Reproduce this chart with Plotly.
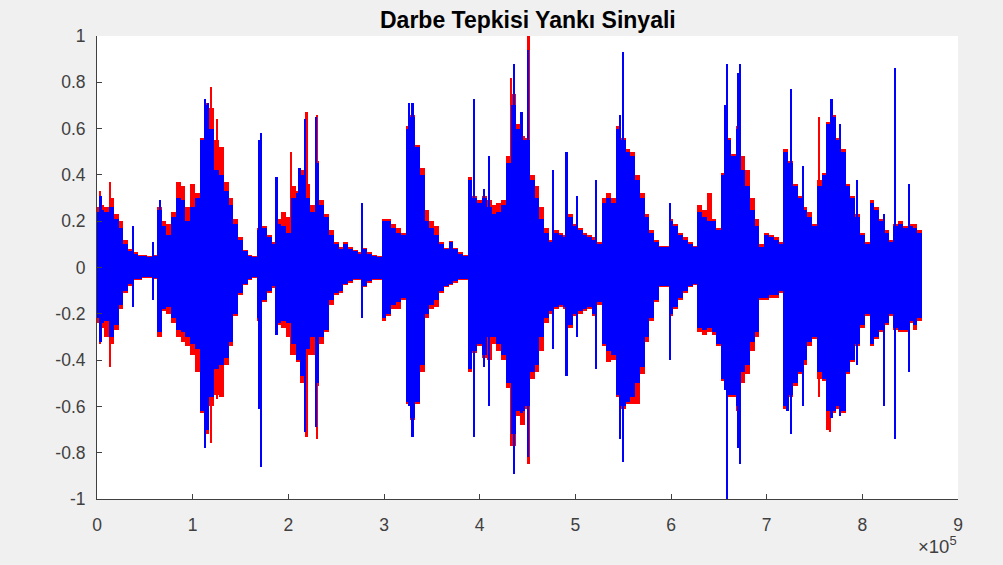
import numpy as np
import plotly.graph_objects as go

# Envelope of the two signals, one column per 5000 samples (x = 0 ... 860000).
STEP = 5000

blue_hi = [
    .24, .25, .24, .26, .21, .17, .10, .07, .06, .05,
    .05, .045, .05, .25, .18, .14, .22, .30, .29, .20,
    .26, .30, .55, .70, .60, .42, .40, .33, .27, .19,
    .12, .07, .05, .045, .16, .17, .13, .10, .19, .18,
    .15, .30, .32, .40, .30, .24, .45, .27, .22, .14,
    .10, .08, .10, .08, .07, .06, .08, .06, .05, .045,
    .20, .20, .17, .15, .14, .60, .65, .52, .40, .20,
    .17, .14, .10, .08, .11, .08, .06, .05, .38, .30,
    .28, .30, .26, .23, .24, .27, .45, .70, .60, .55,
    .55, .38, .30, .21, .15, .11, .15, .14, .13, .22,
    .18, .16, .14, .13, .12, .10, .28, .30, .28, .60,
    .55, .50, .48, .38, .30, .22, .15, .11, .09, .09,
    .20, .18, .14, .12, .10, .09, .24, .22, .20, .20,
    .16, .40, .55, .48, .60, .42, .35, .25, .18, .09,
    .14, .13, .12, .10, .50, .45, .35, .30, .25, .22,
    .18, .35, .40, .62, .65, .55, .50, .35, .30, .22,
    .14, .10, .28, .25, .20, .15, .11, .18, .19, .17,
    .18, .17, .15,
]
blue_lo = [
    -.22, -.24, -.23, -.30, -.25, -.16, -.10, -.07, -.05, -.05,
    -.04, -.04, -.045, -.28, -.18, -.17, -.22, -.27, -.28, -.30,
    -.33, -.35, -.62, -.70, -.56, -.44, -.42, -.39, -.32, -.20,
    -.11, -.07, -.05, -.04, -.22, -.14, -.10, -.08, -.24, -.23,
    -.24, -.33, -.40, -.47, -.35, -.30, -.50, -.30, -.27, -.14,
    -.11, -.10, -.07, -.06, -.05, -.05, -.08, -.06, -.05, -.05,
    -.22, -.20, -.16, -.15, -.13, -.58, -.65, -.58, -.42, -.20,
    -.16, -.14, -.10, -.08, -.07, -.06, -.05, -.05, -.44, -.36,
    -.33, -.38, -.30, -.30, -.33, -.38, -.50, -.72, -.62, -.62,
    -.60, -.45, -.42, -.30, -.22, -.19, -.17, -.16, -.17, -.25,
    -.20, -.19, -.18, -.17, -.20, -.15, -.33, -.36, -.38, -.55,
    -.60, -.58, -.56, -.50, -.43, -.30, -.22, -.14, -.08, -.08,
    -.20, -.17, -.13, -.10, -.08, -.07, -.26, -.27, -.26, -.28,
    -.33, -.48, -.55, -.55, -.60, -.45, -.42, -.32, -.28, -.13,
    -.13, -.12, -.12, -.10, -.60, -.55, -.50, -.45, -.40, -.32,
    -.30, -.45, -.48, -.62, -.62, -.60, -.62, -.45, -.40, -.33,
    -.25, -.20, -.33, -.30, -.27, -.24, -.20, -.26, -.27, -.27,
    -.23, -.25, -.22,
]
red_hi = [
    .26, .27, .26, .30, .23, .20, .12, .08, .065, .055,
    .055, .05, .055, .26, .20, .19, .24, .37, .35, .26,
    .36, .32, .56, .71, .69, .55, .52, .37, .30, .21,
    .13, .075, .055, .05, .17, .18, .14, .11, .21, .24,
    .22, .35, .33, .42, .36, .27, .46, .29, .23, .16,
    .11, .09, .11, .09, .075, .065, .085, .065, .055, .05,
    .21, .21, .19, .17, .15, .61, .66, .53, .43, .25,
    .20, .18, .11, .085, .115, .085, .065, .055, .39, .31,
    .29, .31, .29, .27, .28, .29, .48, .75, .62, .57,
    .56, .40, .35, .26, .17, .12, .16, .15, .14, .23,
    .19, .17, .15, .14, .13, .11, .30, .32, .30, .61,
    .56, .51, .50, .40, .32, .23, .16, .12, .095, .095,
    .21, .19, .15, .13, .11, .095, .27, .25, .32, .21,
    .17, .41, .56, .49, .61, .48, .42, .30, .21, .10,
    .15, .14, .13, .11, .51, .46, .36, .31, .26, .24,
    .19, .38, .41, .63, .66, .56, .51, .36, .31, .23,
    .15, .11, .29, .26, .21, .16, .12, .19, .20, .18,
    .19, .19, .16,
]
red_lo = [
    -.24, -.26, -.30, -.33, -.27, -.18, -.11, -.08, -.055, -.055,
    -.045, -.045, -.05, -.30, -.19, -.20, -.24, -.30, -.32, -.34,
    -.38, -.45, -.63, -.72, -.60, -.55, -.56, -.42, -.34, -.21,
    -.12, -.075, -.055, -.045, -.23, -.15, -.11, -.09, -.25, -.26,
    -.30, -.38, -.41, -.50, -.38, -.38, -.51, -.33, -.28, -.16,
    -.12, -.11, -.075, -.065, -.055, -.055, -.085, -.065, -.055, -.055,
    -.23, -.21, -.18, -.18, -.14, -.59, -.66, -.59, -.45, -.22,
    -.18, -.17, -.11, -.085, -.075, -.065, -.055, -.055, -.45, -.37,
    -.34, -.39, -.40, -.33, -.36, -.40, -.52, -.77, -.64, -.68,
    -.61, -.48, -.45, -.36, -.24, -.20, -.18, -.17, -.18, -.26,
    -.21, -.20, -.19, -.18, -.21, -.16, -.34, -.41, -.40, -.56,
    -.61, -.59, -.59, -.59, -.46, -.32, -.23, -.15, -.085, -.085,
    -.21, -.18, -.14, -.11, -.085, -.075, -.28, -.29, -.28, -.29,
    -.34, -.49, -.56, -.56, -.62, -.50, -.46, -.36, -.30, -.14,
    -.14, -.13, -.13, -.11, -.61, -.56, -.51, -.46, -.42, -.34,
    -.31, -.48, -.49, -.70, -.63, -.61, -.63, -.46, -.41, -.34,
    -.26, -.21, -.34, -.31, -.28, -.25, -.21, -.27, -.28, -.28,
    -.24, -.27, -.23,
]

# Isolated peaks (sample index, positive peak, negative peak)
blue_peak_x = [4000, 38000, 59000, 66000, 113000, 116000, 170000, 172000, 188000,
               212000, 218000, 229000, 277000, 326000, 330000, 394000, 405000,
               410000, 436000, 444000, 451000, 477000, 491000, 502000, 522000,
               547000, 550000, 599000, 657000, 659000, 670000, 672000, 722000,
               726000, 738000, 768000, 777000, 795000, 823000, 834000, 849000]
blue_peak_hi = [.31, .18, .11, .29, .73, .71, .55, .58, .39,
                .43, .64, .65, .28, .71, .71, .73, .34,
                .48, .88, .67, .94, .42, .50, .31, .38,
                .66, .93, .28, .70, .88, .84, .88, .44,
                .77, .44, .73, .62, .38, .23, .86, .36]
blue_peak_lo = [-.32, -.17, -.14, -.28, -.78, -.70, -.61, -.86, -.29,
                -.40, -.71, -.69, -.22, -.60, -.73, -.73, -.43,
                -.60, -.89, -.63, -.82, -.35, -.47, -.30, -.44,
                -.74, -.84, -.40, -.53, -1.0, -.78, -.85, -.62,
                -.72, -.60, -.65, -.64, -.42, -.60, -.74, -.45]

red_peak_x = [3000, 14000, 119000, 125000, 203000, 219000, 230000, 433000,
              451000, 755000, 766000]
red_peak_hi = [.33, .37, .78, .64, .50, .67, .66, .82, 1.0, .65, .60]
red_peak_lo = [-.33, -.43, -.76, -.57, -.38, -.73, -.74, -.77, -.85, -.56, -.71]

x_tick_vals = [0, 100000, 200000, 300000, 400000, 500000, 600000, 700000, 800000, 900000]
x_tick_text = ["0", "1", "2", "3", "4", "5", "6", "7", "8", "9"]
y_tick_vals = [-1, -0.8, -0.6, -0.4, -0.2, 0, 0.2, 0.4, 0.6, 0.8, 1]
y_tick_text = ["-1", "-0.8", "-0.6", "-0.4", "-0.2", "0", "0.2", "0.4", "0.6", "0.8", "1"]

env_x = np.arange(len(blue_hi)) * STEP

RED = "#ff0000"
BLUE = "#0000ff"
AXIS = "#404040"
FONT = "Liberation Sans, Arial, Helvetica, sans-serif"


def band(x, hi, lo, color, width):
    hi = np.asarray(hi, dtype=float)
    lo = np.asarray(lo, dtype=float)
    return go.Bar(
        x=x, y=hi - lo, base=lo, width=width,
        marker=dict(color=color, line=dict(width=0)),
        hoverinfo="skip", showlegend=False,
    )


fig = go.Figure()
# original signal underneath, echo signal on top
fig.add_trace(band(env_x, red_hi, red_lo, RED, STEP))
fig.add_trace(band(red_peak_x, red_peak_hi, red_peak_lo, RED, 2200))
fig.add_trace(band(env_x, blue_hi, blue_lo, BLUE, STEP))
fig.add_trace(band(blue_peak_x, blue_peak_hi, blue_peak_lo, BLUE, 1800))

# plot area in pixels
L, R, T, B = 97, 958, 36, 499
W, H = 1003, 565
pw, ph = R - L, B - T

fig.update_layout(
    width=W, height=H,
    margin=dict(l=L, r=W - R, t=T, b=H - B, pad=0),
    paper_bgcolor="#f0f0f0",
    plot_bgcolor="white",
    barmode="overlay", bargap=0,
    showlegend=False,
    xaxis=dict(
        range=[0, 900000], tickvals=x_tick_vals, ticktext=x_tick_text,
        ticks="inside", ticklen=5, tickwidth=1, tickcolor=AXIS,
        showline=True, linecolor=AXIS, linewidth=1,
        showgrid=False, zeroline=False, ticklabelstandoff=10,
        tickfont=dict(family=FONT, size=17.5, color=AXIS),
    ),
    yaxis=dict(
        range=[-1, 1], tickvals=y_tick_vals, ticktext=y_tick_text,
        ticks="inside", ticklen=5, tickwidth=1, tickcolor=AXIS,
        showline=True, linecolor=AXIS, linewidth=1,
        showgrid=False, zeroline=False, ticklabelstandoff=7,
        tickfont=dict(family=FONT, size=17.5, color=AXIS),
    ),
    shapes=[
        # light frame round the figure
        dict(type="rect", xref="paper", yref="paper", layer="below",
             x0=(6 - L) / pw, x1=(W - L) / pw, y0=(B - 563) / ph, y1=(B + 2) / ph,
             fillcolor="#f0f0f0", line=dict(width=0)),
        dict(type="rect", xref="paper", yref="paper", layer="below",
             x0=0, x1=1, y0=0, y1=1, fillcolor="white", line=dict(width=0)),
    ],
    annotations=[
        dict(text="<b>Darbe Tepkisi Yankı Sinyali</b>", xref="paper", yref="paper",
             x=0.5, y=(B - 20) / ph, xanchor="center", yanchor="middle",
             showarrow=False, font=dict(family=FONT, size=23, color="#000000")),
        dict(text="×10<sup>5</sup>", xref="paper", yref="paper",
             x=(R + 1 - L) / pw, y=(B - 545) / ph, xanchor="right", yanchor="middle",
             showarrow=False, font=dict(family=FONT, size=18.5, color=AXIS)),
    ],
)

fig.write_html("out.html", config={"displayModeBar": False})
